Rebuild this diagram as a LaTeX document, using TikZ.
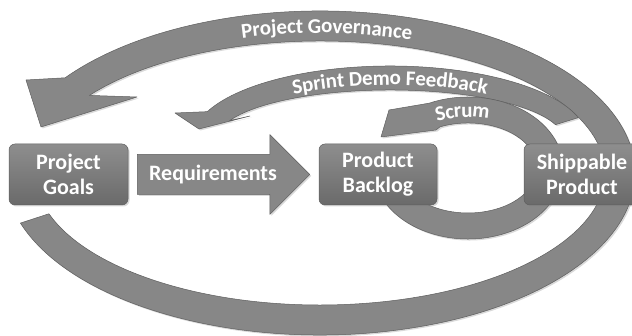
\documentclass[tikz,border=0pt]{standalone}
\usepackage{fontspec}
\setmainfont{Carlito}
\usetikzlibrary{calc,shadows,decorations.text}
\definecolor{bandgray}{HTML}{878787}
\definecolor{boxtop}{HTML}{8E8E8E}
\definecolor{boxbottom}{HTML}{6A6A6A}
\definecolor{edgegray}{HTML}{5E5E5E}
\def\bandfont{\color{white}\bfseries\fontsize{21}{21}\selectfont}
\tikzset{
	band/.style={fill=bandgray, draw=edgegray, line width=0.5pt, line join=round,
		drop shadow={opacity=0.3, shadow xshift=1.5pt, shadow yshift=-1.5pt}},
	stagebox/.style={rounded corners=6pt, draw=edgegray, line width=0.5pt,
		top color=boxtop, bottom color=boxbottom, text=white, align=center,
		font=\bfseries\fontsize{22}{25}\selectfont, minimum height=61pt, inner sep=0pt,
		drop shadow={opacity=0.3, shadow xshift=1.5pt, shadow yshift=-1.5pt}},
	bandtext/.style={decorate, decoration={text along path, text align=center, raise=-7pt}}
}

\begin{document}
\begin{tikzpicture}[x=1pt, y=1pt]
			%%%%% START %%%%%
			\useasboundingbox (0, 0) rectangle (632, 336);
			
			\coordinate (gc) at (320, 163);
			\coordinate (sc) at (390, 197);
			\coordinate (rc) at (468, 168);
			
			% project governance
			\draw[band] ([shift={(gc)}]198:315pt and 162pt) arc[start angle=198, end angle=504, x radius=315pt, y radius=162pt]
				-- (26, 256) -- (41, 209) -- (137, 239)
				-- ([shift={(gc)}]144:285pt and 132pt) arc[start angle=504, end angle=198, x radius=285pt, y radius=132pt] -- cycle;
			\path[bandtext, decoration={text={|\bandfont|Project Governance}}]
				([shift={(gc)}]148:300pt and 147pt) arc[start angle=148, end angle=28, x radius=300pt, y radius=147pt];
			
			% sprint demo feedback
			\draw[band] ([shift={(sc)}]17:197pt and 73pt) arc[start angle=17, end angle=158, x radius=197pt, y radius=73pt]
				-- (175, 223) -- (199, 207) -- (250, 220)
				-- ([shift={(sc)}]158:173pt and 49pt) arc[start angle=158, end angle=17, x radius=173pt, y radius=49pt] -- cycle;
			\path[bandtext, decoration={text={|\bandfont|Sprint Demo Feedback}}]
				([shift={(sc)}]150:185pt and 61pt) arc[start angle=150, end angle=30, x radius=185pt, y radius=61pt];
			
			% scrum
			\draw[band] ([shift={(rc)}]200:95pt and 71pt) arc[start angle=200, end angle=474, x radius=95pt, y radius=71pt]
				-- (389, 226) -- (381, 199) -- (436, 206)
				-- ([shift={(rc)}]114:69pt and 45pt) arc[start angle=474, end angle=200, x radius=69pt, y radius=45pt] -- cycle;
			\path[bandtext, decoration={text={|\bandfont|Scrum}}]
				([shift={(rc)}]155:82pt and 58pt) arc[start angle=155, end angle=35, x radius=82pt, y radius=58pt];
			
			% stages
			\node[stagebox, minimum width=119pt] (goals) at (68.5, 161.5) {Project\\Goals};
			\node[stagebox, minimum width=118pt] (backlog) at (378, 161.5) {Product\\Backlog};
			\node[stagebox, minimum width=116pt] (shippable) at (582, 161.5) {Shippable\\Product};
			
			% requirements
			\coordinate (reqtail) at ([xshift=9pt]goals.east);
			\coordinate (reqtip) at ([xshift=-9pt]backlog.west);
			\draw[band] ([yshift=20pt]reqtail) -- ([shift={(-40pt, 20pt)}]reqtip) -- ([shift={(-40pt, 40pt)}]reqtip)
				-- (reqtip) -- ([shift={(-40pt, -40pt)}]reqtip) -- ([shift={(-40pt, -20pt)}]reqtip)
				-- ([yshift=-20pt]reqtail) -- cycle;
			\node[text=white, font=\bfseries\fontsize{22}{25}\selectfont] (req) at (213, 161.5) {Requirements};
			
			%%%%% END %%%%%
\end{tikzpicture}
\end{document}
